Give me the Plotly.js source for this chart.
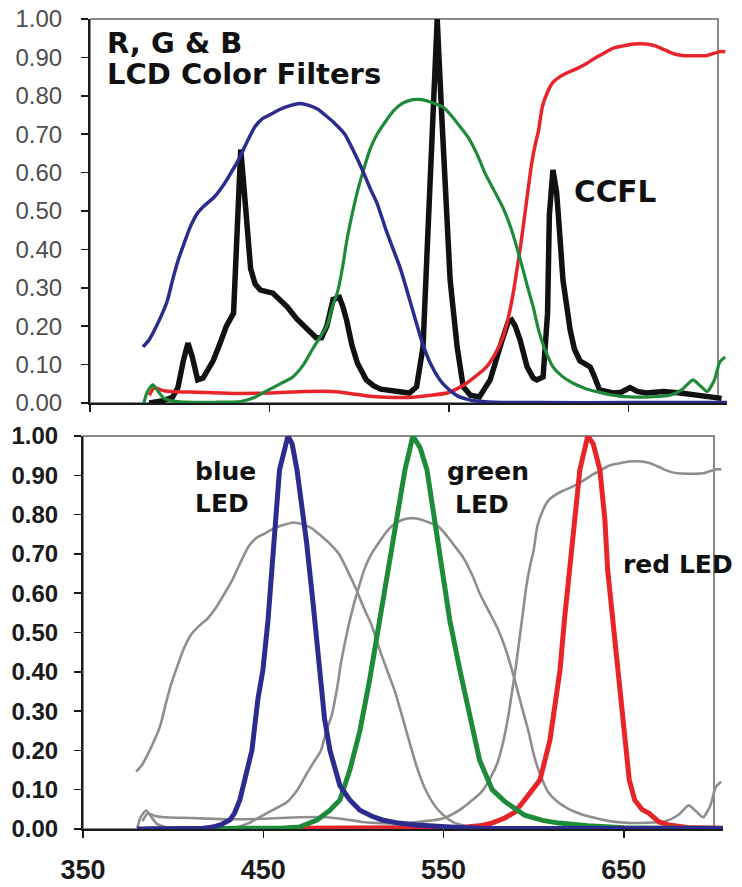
<!DOCTYPE html>
<html><head><meta charset="utf-8">
<script src="https://cdn.plot.ly/plotly-3.0.1.min.js"></script>
<style>html,body{margin:0;padding:0;background:#fff}</style>
</head><body><div id="chart" style="width:742px;height:887px"></div>
<script>
// ---------- DATA (wavelength in nm, relative value) ----------
const blueFilterWl  = [379.5,383,387,390,393,396,399,402,406,410,414,419,424,428,433,437,442,446,450,456,462,467,472,477,481,486,492,497,502,506,510,515,519,523,529,535,540,545,550,555,560,565,575,600,650,705];
const blueFilterVal = [0.146,0.165,0.20,0.23,0.265,0.32,0.37,0.41,0.46,0.495,0.515,0.535,0.565,0.595,0.635,0.675,0.72,0.74,0.75,0.765,0.775,0.78,0.775,0.765,0.75,0.73,0.70,0.655,0.605,0.56,0.52,0.45,0.40,0.35,0.255,0.16,0.10,0.06,0.035,0.018,0.01,0.005,0.002,0.001,0.001,0.001];

const greenFilterWl  = [380,382,385,388,391,395,400,420,434,442,449,456,463,469,474,478,482,485,488,491,493,496,499,502,506,510,515,519,524,530,535,542,547,552,557,561,566,570,575,580,585,590,594,597,600,603,608,613,619,626,633,642,651,662,673,680,686,690,694,698,701,704];
const greenFilterVal = [0.0,0.03,0.047,0.03,0.013,0.006,0.003,0.002,0.004,0.015,0.033,0.05,0.068,0.10,0.14,0.17,0.20,0.25,0.29,0.36,0.42,0.49,0.55,0.60,0.66,0.70,0.735,0.76,0.78,0.79,0.79,0.78,0.77,0.745,0.715,0.69,0.645,0.60,0.555,0.51,0.45,0.37,0.30,0.25,0.19,0.146,0.094,0.07,0.052,0.038,0.029,0.02,0.016,0.016,0.02,0.035,0.06,0.045,0.03,0.06,0.107,0.12];

const redFilterWl  = [383,386,390,395,410,430,450,470,485,495,505,515,530,540,549,555,560,565,571,576,580,583,586,588,590,592,594,596,598,600,602,605,608,612,616,621,627,632,636,642,647,653,660,665,670,675,680,688,694,701,704];
const redFilterVal = [0.02,0.04,0.033,0.03,0.028,0.025,0.026,0.03,0.03,0.025,0.018,0.015,0.015,0.02,0.026,0.038,0.052,0.07,0.094,0.13,0.17,0.22,0.29,0.35,0.41,0.48,0.55,0.62,0.67,0.71,0.77,0.81,0.835,0.85,0.86,0.87,0.885,0.90,0.91,0.925,0.93,0.935,0.935,0.93,0.92,0.91,0.905,0.904,0.905,0.915,0.915];

const ccflWl  = [383,390,396,399,402,404.6,407,410,413,418.6,422,426,430,432,434,436,438,439.5,442,445,452,456,460,465,471,476,479,482,485.5,489,491,493,496,499,504,508,512,520,528,532,535.6,538,540,543.5,546,548,550.7,554.6,558,562,567,573,576,579.7,583,585,587,589.7,593.6,597,599,602.5,605,606,608,610,611,613.6,617.6,620,623,628.7,631,634,641.5,646,651,655,660,669.6,679,690,697,702];
const ccflVal = [0.0,0.005,0.015,0.04,0.11,0.156,0.12,0.06,0.065,0.11,0.15,0.20,0.234,0.49,0.66,0.55,0.45,0.35,0.31,0.294,0.286,0.27,0.25,0.22,0.19,0.17,0.17,0.20,0.27,0.275,0.25,0.216,0.15,0.104,0.06,0.045,0.036,0.03,0.026,0.042,0.146,0.41,0.65,1.0,0.75,0.58,0.32,0.146,0.042,0.02,0.016,0.06,0.11,0.164,0.21,0.216,0.2,0.164,0.094,0.065,0.06,0.068,0.234,0.49,0.607,0.55,0.49,0.32,0.19,0.14,0.11,0.094,0.07,0.034,0.026,0.028,0.04,0.03,0.026,0.03,0.026,0.02,0.016,0.012];

const blueLedWl  = [380,400,415,422,427,431.5,434,437,440,443.7,447,449.8,452.6,454.8,456.5,459,463.7,466,468.7,470,474,477.6,481.4,484,487,492.5,498,503.6,510,516,525,535,553.5,570,600,705];
const blueLedVal = [0,0,0.001,0.005,0.012,0.023,0.04,0.074,0.125,0.2,0.33,0.405,0.53,0.66,0.786,0.914,1.0,0.98,0.914,0.87,0.73,0.575,0.405,0.28,0.2,0.11,0.074,0.048,0.033,0.023,0.015,0.01,0.005,0.002,0.001,0.001];

const greenLedWl  = [385,440,460,470,479.8,487,492.5,498,503.6,509,514.7,519,524,528.6,533,537,540.8,545,549,553.5,559,564.6,570,577,584,595,605,614,630,650,680,705];
const greenLedVal = [0,0.001,0.002,0.005,0.023,0.048,0.074,0.15,0.25,0.38,0.53,0.66,0.786,0.914,1.0,0.97,0.914,0.786,0.66,0.53,0.405,0.28,0.175,0.10,0.07,0.035,0.022,0.015,0.008,0.003,0.001,0.001];

const redLedWl  = [470,520,560,570,576.8,584,589.6,595,603.5,609,614.6,617,620,623,625.6,630,633,636.7,639.5,641,644,646.7,650.6,653,656,660,664,669.5,675,685,705];
const redLedVal = [0.002,0.002,0.004,0.008,0.015,0.028,0.043,0.074,0.125,0.226,0.405,0.53,0.66,0.786,0.914,1.0,0.98,0.914,0.786,0.66,0.53,0.405,0.226,0.125,0.074,0.05,0.04,0.018,0.01,0.004,0.002];

const xTickVals = [350,450,550,650];
const yTickVals = [0,0.1,0.2,0.3,0.4,0.5,0.6,0.7,0.8,0.9,1.0];

// ---------- STYLE / LAYOUT ----------
const W = 742, H = 887;
const NAVY = '#2c2b8e', GREEN = '#1e8a3a', RED = '#e8242b', GRAY = '#8e8e8e', BLACK = '#111111';
const px = v => v / W, py = v => 1 - v / H;

function tr(x, y, color, width, xa, ya, shape) {
  return {x: x, y: y, type: 'scatter', mode: 'lines', xaxis: xa, yaxis: ya,
          line: {color: color, width: width, shape: shape || 'linear', smoothing: 0.6},
          hoverinfo: 'skip', showlegend: false};
}

const traces = [
  tr(ccflWl, ccflVal, BLACK, 5.5, 'x', 'y'),
  tr(redFilterWl, redFilterVal, RED, 3.5, 'x', 'y', 'spline'),
  tr(greenFilterWl, greenFilterVal, GREEN, 3.2, 'x', 'y', 'spline'),
  tr(blueFilterWl, blueFilterVal, NAVY, 3.5, 'x', 'y', 'spline'),
  tr(blueFilterWl, blueFilterVal, GRAY, 2.6, 'x2', 'y2', 'spline'),
  tr(greenFilterWl, greenFilterVal, GRAY, 2.6, 'x2', 'y2', 'spline'),
  tr(redFilterWl, redFilterVal, GRAY, 2.6, 'x2', 'y2', 'spline'),
  tr(redLedWl, redLedVal, RED, 5, 'x2', 'y2'),
  tr(greenLedWl, greenLedVal, GREEN, 5, 'x2', 'y2'),
  tr(blueLedWl, blueLedVal, NAVY, 5, 'x2', 'y2')
];

const axisCommon = {showgrid: false, zeroline: false, showline: true, linecolor: '#1a1a1a', linewidth: 2,
                    ticks: 'outside', ticklen: 7, tickwidth: 1.5, tickcolor: '#1a1a1a'};

function ann(text, x, y, size, anchor) {
  return {text: text, xref: 'paper', yref: 'paper', x: px(x), y: py(y), xanchor: anchor || 'left', yanchor: 'middle',
          showarrow: false, font: {family: 'DejaVu Sans', size: size, color: '#111', weight: 'bold'}};
}

const layout = {
  width: W, height: H, margin: {l: 0, r: 0, t: 0, b: 0}, paper_bgcolor: '#fff', plot_bgcolor: '#fff',
  showlegend: false,
  xaxis: Object.assign({}, axisCommon, {domain: [px(90), px(727)], range: [350, 705], anchor: 'y',
          tickvals: xTickVals, showticklabels: false}),
  yaxis: Object.assign({}, axisCommon, {domain: [py(403), py(19)], range: [0, 1], anchor: 'x',
          tickvals: yTickVals, tickformat: '.2f', ticklabelstandoff: 14,
          tickfont: {family: 'Liberation Sans, Arial, sans-serif', size: 24, color: '#4e4e4e'}}),
  xaxis2: Object.assign({}, axisCommon, {domain: [px(83), px(723)], range: [350, 705], anchor: 'y2',
          tickvals: xTickVals, ticklabelstandoff: 9,
          tickfont: {family: 'Liberation Sans, Arial, sans-serif', size: 27, color: '#1a1a1a', weight: 'bold'}}),
  yaxis2: Object.assign({}, axisCommon, {domain: [py(829), py(436)], range: [0, 1], anchor: 'x2',
          tickvals: yTickVals, tickformat: '.2f', ticklabelstandoff: 11,
          tickfont: {family: 'Liberation Sans, Arial, sans-serif', size: 24, color: '#1a1a1a', weight: 'bold'}}),
  shapes: [
    {type: 'rect', xref: 'x', yref: 'y domain', x0: 350, x1: 700, y0: 0, y1: 1, layer: 'below',
     line: {color: '#8a8a8a', width: 2}},
    {type: 'rect', xref: 'x2', yref: 'y2 domain', x0: 350, x1: 700, y0: 0, y1: 1, layer: 'below',
     line: {color: '#8a8a8a', width: 2}}
  ],
  annotations: [
    ann('R, G &amp; B', 105, 43, 29),
    ann('LCD Color Filters', 105, 74, 29),
    ann('CCFL', 572, 192, 29.5),
    ann('blue', 193, 471, 25),
    ann('LED', 193, 503, 25),
    ann('green', 445, 471, 25),
    ann('LED', 453, 504, 25),
    ann('red LED', 621, 564, 25)
  ]
};

Plotly.newPlot('chart', traces, layout, {staticPlot: true, displayModeBar: false});
</script></body></html>
